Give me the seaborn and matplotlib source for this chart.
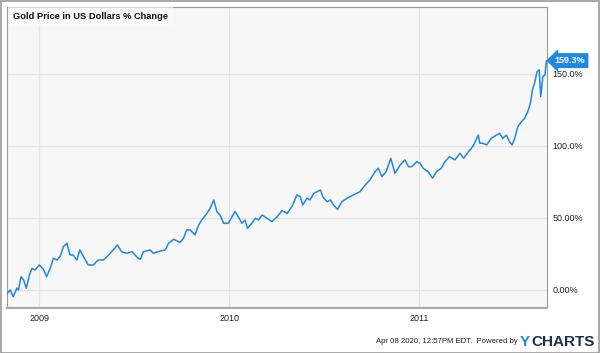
import matplotlib
matplotlib.use("Agg")
import matplotlib.pyplot as plt
from matplotlib.patches import Rectangle
import pandas as pd
import seaborn as sns

# ---- data ----
dates = [
    "2008-11-01", "2008-11-06", "2008-11-12", "2008-11-19", "2008-11-22", "2008-11-27",
    "2008-12-02", "2008-12-07", "2008-12-13", "2008-12-18", "2008-12-24", "2009-01-01",
    "2009-01-09", "2009-01-15", "2009-01-22", "2009-01-28", "2009-02-04", "2009-02-10",
    "2009-02-16", "2009-02-23", "2009-03-01", "2009-03-07", "2009-03-14", "2009-03-20",
    "2009-03-27", "2009-04-05", "2009-04-15", "2009-04-24", "2009-05-04", "2009-05-11",
    "2009-05-23", "2009-05-31", "2009-06-08", "2009-06-18", "2009-06-28", "2009-07-10",
    "2009-07-14", "2009-07-20", "2009-08-02", "2009-08-08", "2009-08-18", "2009-08-24",
    "2009-08-31", "2009-09-06", "2009-09-16", "2009-09-22", "2009-09-28", "2009-10-05",
    "2009-10-11", "2009-10-18", "2009-10-27", "2009-11-03", "2009-11-09", "2009-11-19",
    "2009-11-25", "2009-12-02", "2009-12-08", "2009-12-14", "2009-12-21", "2009-12-30",
    "2010-01-06", "2010-01-12", "2010-01-18", "2010-01-25", "2010-01-31", "2010-02-05",
    "2010-02-13", "2010-02-20", "2010-02-26", "2010-03-05", "2010-03-14", "2010-03-24",
    "2010-04-03", "2010-04-12", "2010-04-22", "2010-05-01", "2010-05-11", "2010-05-17",
    "2010-05-22", "2010-05-30", "2010-06-05", "2010-06-12", "2010-06-19", "2010-06-25",
    "2010-06-30", "2010-07-08", "2010-07-14", "2010-07-20", "2010-07-28", "2010-08-05",
    "2010-08-15", "2010-08-27", "2010-09-09", "2010-09-19", "2010-09-28", "2010-10-08",
    "2010-10-14", "2010-10-21", "2010-10-29", "2010-11-07", "2010-11-15", "2010-11-21",
    "2010-11-25", "2010-12-04", "2010-12-11", "2010-12-17", "2010-12-27", "2011-01-02",
    "2011-01-08", "2011-01-18", "2011-01-26", "2011-02-03", "2011-02-12", "2011-02-19",
    "2011-02-28", "2011-03-10", "2011-03-20", "2011-03-27", "2011-04-05", "2011-04-11",
    "2011-04-17", "2011-04-24", "2011-04-27", "2011-05-03", "2011-05-10", "2011-05-19",
    "2011-05-29", "2011-06-04", "2011-06-10", "2011-06-17", "2011-06-23", "2011-06-28",
    "2011-07-03", "2011-07-09", "2011-07-16", "2011-07-22", "2011-07-28", "2011-08-02",
    "2011-08-06", "2011-08-10", "2011-08-15", "2011-08-19", "2011-08-22", "2011-08-26",
    "2011-08-30", "2011-09-02",
]
pct_change = [
    -2.3, 0.0, -4.6, 1.4, 0.0, 9.2,
    6.9, 1.2, 10.4, 15.0, 13.9, 17.4,
    14.4, 9.2, 15.0, 22.0, 20.8, 23.1,
    30.0, 32.4, 24.3, 24.3, 20.8, 27.8,
    23.1, 17.4, 17.4, 20.8, 20.8, 23.1,
    27.8, 31.3, 26.6, 25.5, 26.6, 22.0,
    21.3, 26.6, 27.8, 25.5, 26.6, 27.3,
    27.8, 32.4, 35.2, 34.2, 32.9, 35.9,
    41.7, 41.7, 38.2, 45.1, 48.6, 53.2,
    56.7, 62.5, 54.4, 52.1, 46.3, 46.3,
    50.9, 54.4, 50.9, 46.3, 48.6, 42.8,
    46.3, 49.8, 48.6, 52.1, 49.8, 47.5,
    50.9, 55.1, 53.2, 57.9, 66.0, 64.8,
    59.0, 63.7, 62.5, 67.1, 68.3, 69.4,
    64.4, 61.3, 62.5, 59.0, 56.0, 61.3,
    63.7, 66.0, 68.3, 72.9, 76.4, 82.2,
    84.5, 78.7, 82.2, 91.4, 81.0, 84.5,
    86.8, 90.3, 85.6, 85.6, 89.1, 88.0,
    84.5, 82.2, 77.6, 82.2, 84.5, 89.1,
    92.6, 90.3, 94.9, 91.4, 96.0, 98.4,
    101.9, 107.6, 101.9, 101.9, 100.7, 105.3,
    107.6, 108.8, 105.3, 107.6, 103.0, 100.7,
    105.3, 113.4, 116.9, 119.2, 123.8, 129.6,
    138.9, 143.5, 151.6, 152.8, 134.3, 148.2,
    149.3, 159.3,
]
title = "Gold Price in US Dollars % Change"
x_tick_dates = ["2009-01-01", "2010-01-01", "2011-01-01"]
x_tick_labels = ["2009", "2010", "2011"]
y_ticks = [0, 50, 100, 150]
y_tick_labels = ["0.00%", "50.00%", "100.0%", "150.0%"]
last_label = "159.3%"

# ---- styling ----
sns.set_theme(style="white")
plt.rcParams["font.family"] = ["Liberation Sans", "DejaVu Sans"]

LINE = "#1e88e5"
df = pd.DataFrame({"date": pd.to_datetime(dates), "pct": pct_change})

fig = plt.figure(figsize=(6.0, 3.53), dpi=100)
ax = fig.add_axes([7 / 600, 45 / 353, 540 / 600, 301 / 353])
ax.set_facecolor("#f7f7f7")

sns.lineplot(data=df, x="date", y="pct", ax=ax, color=LINE, linewidth=1.1, zorder=3)

ax.set_xlim(pd.Timestamp("2008-10-31"), pd.Timestamp("2011-09-03"))
ax.set_ylim(-12.5, 196.5)

ax.set_xticks(pd.to_datetime(x_tick_dates))
ax.set_xticklabels(x_tick_labels)
ax.set_yticks(y_ticks)
ax.set_yticklabels(y_tick_labels)
ax.yaxis.tick_right()
ax.tick_params(axis="both", length=0, labelsize=6.5, colors="#222222")
ax.tick_params(axis="y", pad=4)
ax.tick_params(axis="x", pad=4)
ax.set_xlabel("")
ax.set_ylabel("")
ax.grid(True, color="#e4e4e4", linewidth=0.9)
ax.set_axisbelow(True)

for side in ["left", "right", "top"]:
    ax.spines[side].set_color("#9a9a9a")
    ax.spines[side].set_linewidth(0.8)
ax.spines["bottom"].set_color("#aaaaaa")
ax.spines["bottom"].set_linewidth(1.5)

ax.text(0.011, 0.983, title, transform=ax.transAxes, ha="left", va="top",
        fontsize=6.7, fontweight="bold", color="#111111", zorder=5,
        bbox=dict(boxstyle="square,pad=0.5", facecolor="#fbfbfb", edgecolor="none", alpha=0.6))

# end-value tag
ax.annotate(last_label, xy=(df["date"].iloc[-1], pct_change[-1]),
            xytext=(6, 0), textcoords="offset points", ha="left", va="center",
            fontsize=6.5, fontweight="bold", color="white", annotation_clip=False, zorder=6,
            bbox=dict(boxstyle="larrow,pad=0.25", facecolor=LINE, edgecolor=LINE))

# footer
fig.text(0.862, 0.032, "Apr 08 2020, 12:57PM EDT.  Powered by", ha="right", va="center",
         fontsize=5.6, color="#222222")
fig.text(0.867, 0.032, "Y", ha="left", va="center", fontsize=11, fontweight="bold", color="#1e88e5")
fig.text(0.885, 0.032, "CHARTS", ha="left", va="center", fontsize=11, fontweight="bold", color="#1c2d4f")

fig.patches.append(Rectangle((0.001, 0.001), 0.997, 0.997, transform=fig.transFigure,
                             fill=False, edgecolor="#999999", linewidth=1.2))

fig.savefig("out.png", dpi=100)
